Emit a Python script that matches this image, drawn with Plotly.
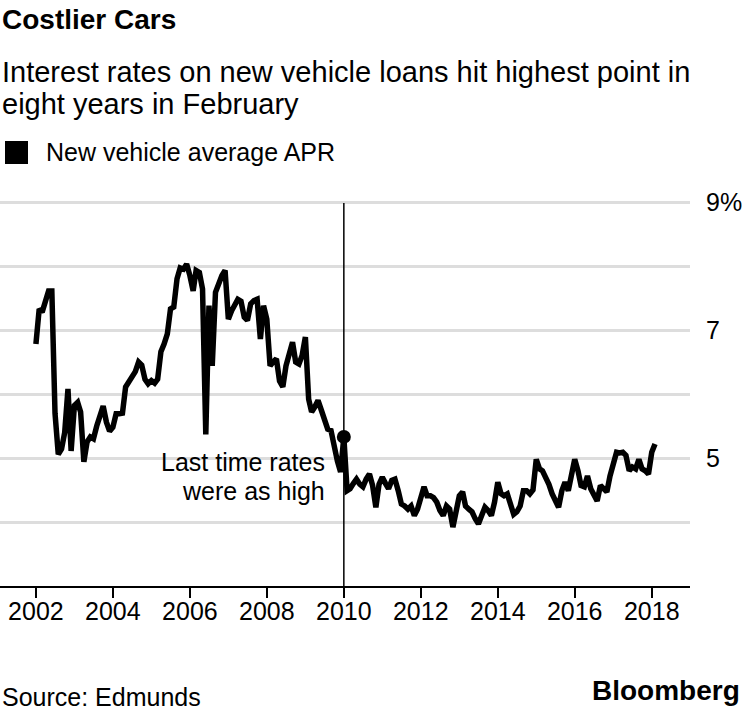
import plotly.graph_objects as go
import pandas as pd

# Monthly new vehicle average APR (%), Jan 2002 - Feb 2018
apr_2002 = [6.78, 7.33, 7.28, 7.44, 7.61, 7.61, 5.70, 5.06, 5.14, 5.40, 6.08, 5.11]
apr_2003 = [5.82, 5.87, 5.72, 4.94, 5.25, 5.33, 5.30, 5.50, 5.66, 5.81, 5.56, 5.42]
apr_2004 = [5.48, 5.69, 5.69, 5.70, 6.11, 6.20, 6.27, 6.35, 6.50, 6.45, 6.23, 6.16]
apr_2005 = [6.21, 6.17, 6.23, 6.66, 6.78, 6.94, 7.33, 7.36, 7.80, 7.97, 7.95, 8.03]
apr_2006 = [7.85, 7.61, 7.93, 7.90, 7.64, 5.37, 7.38, 6.44, 7.59, 7.75, 7.85, 7.93]
apr_2007 = [7.17, 7.30, 7.38, 7.48, 7.45, 7.20, 7.15, 7.41, 7.46, 7.48, 6.86, 7.38]
apr_2008 = [7.17, 6.44, 6.50, 6.55, 6.20, 6.11, 6.44, 6.65, 6.81, 6.50, 6.47, 6.60]
apr_2009 = [6.89, 5.92, 5.72, 5.80, 5.90, 5.75, 5.61, 5.45, 5.43, 5.14, 4.95, 4.78]
apr_2010 = [5.33, 4.49, 4.52, 4.60, 4.67, 4.59, 4.55, 4.67, 4.75, 4.57, 4.23, 4.59]
apr_2011 = [4.70, 4.60, 4.52, 4.65, 4.67, 4.49, 4.28, 4.25, 4.20, 4.25, 4.10, 4.20]
apr_2012 = [4.36, 4.55, 4.41, 4.41, 4.38, 4.31, 4.18, 4.10, 4.25, 4.20, 3.92, 4.20]
apr_2013 = [4.41, 4.47, 4.25, 4.20, 4.16, 4.05, 3.97, 4.10, 4.23, 4.18, 4.10, 4.31]
apr_2014 = [4.62, 4.44, 4.41, 4.44, 4.30, 4.12, 4.16, 4.25, 4.49, 4.49, 4.44, 4.50]
apr_2015 = [4.98, 4.83, 4.80, 4.70, 4.59, 4.44, 4.31, 4.23, 4.49, 4.62, 4.49, 4.75]
apr_2016 = [4.98, 4.80, 4.57, 4.55, 4.72, 4.52, 4.41, 4.33, 4.57, 4.52, 4.47, 4.72]
apr_2017 = [4.94, 5.09, 5.08, 5.09, 5.04, 4.80, 4.86, 4.83, 4.98, 4.83, 4.80, 4.75]
apr_2018 = [5.09, 5.22]

apr = (apr_2002 + apr_2003 + apr_2004 + apr_2005 + apr_2006 + apr_2007 + apr_2008
       + apr_2009 + apr_2010 + apr_2011 + apr_2012 + apr_2013 + apr_2014 + apr_2015
       + apr_2016 + apr_2017 + apr_2018)
dates = pd.date_range("2002-01-01", periods=len(apr), freq="MS")

highlight_date = "2010-01-01"
highlight_value = apr_2010[0]

y_tickvals = [4, 5, 6, 7, 8, 9]
y_ticktext = ["", "5", "", "7", "", "9%"]
x_tickvals = [f"{y}-01-01" for y in range(2002, 2019, 2)]
x_ticktext = [str(y) for y in range(2002, 2019, 2)]

FONT = "Liberation Sans, Arial, Helvetica, sans-serif"

fig = go.Figure()
fig.add_trace(go.Scatter(x=dates, y=apr, mode="lines",
                         line=dict(color="black", width=5.5),
                         hoverinfo="skip", showlegend=False))
fig.add_trace(go.Scatter(x=[highlight_date], y=[highlight_value], mode="markers",
                         marker=dict(color="black", size=14),
                         hoverinfo="skip", showlegend=False))

W, H = 750, 715
L, R, T, B = 0, 60, 200, 129
pw, ph = W - L - R, H - T - B
y_top = 3 + ph / 64.0

def px(x):
    return (x - L) / pw

def py(y):
    return (H - B - y) / ph

fig.add_shape(type="line", xref="x", yref="paper", x0=highlight_date, x1=highlight_date,
              y0=0, y1=py(203), line=dict(color="black", width=1.5))
fig.add_shape(type="rect", xref="paper", yref="paper", x0=px(5), x1=px(28),
              y0=py(164), y1=py(141), fillcolor="black", line=dict(width=0))

annotations = [
    dict(text="<b>Costlier Cars</b>", x=px(0), y=py(19), font=dict(size=28)),
    dict(text="Interest rates on new vehicle loans hit highest point in", x=px(0), y=py(72),
         font=dict(size=29)),
    dict(text="eight years in February", x=px(0), y=py(104), font=dict(size=29)),
    dict(text="New vehicle average APR", x=px(44), y=py(152), font=dict(size=25)),
    dict(text="Last time rates", x=px(327), y=py(462), xanchor="right", font=dict(size=25)),
    dict(text="were as high", x=px(327), y=py(491), xanchor="right", font=dict(size=25)),
    dict(text="Source: Edmunds", x=px(0), y=py(697), font=dict(size=25)),
    dict(text="<b>Bloomberg</b>", x=px(742), y=py(690), xanchor="right", font=dict(size=28)),
]
for a in annotations:
    a.setdefault("xanchor", "left")
    a.update(xref="paper", yref="paper", yanchor="middle", showarrow=False)
    a["font"].update(family=FONT, color="black")
fig.update_layout(annotations=annotations)

fig.update_layout(
    width=W, height=H,
    margin=dict(l=L, r=R, t=T, b=B, pad=0),
    paper_bgcolor="white", plot_bgcolor="white",
    font=dict(family=FONT, color="black", size=25),
    showlegend=False,
    xaxis=dict(range=["2001-01-25", "2018-12-30"], tickvals=x_tickvals, ticktext=x_ticktext,
               ticks="outside", ticklen=10, tickwidth=1.5, tickcolor="black",
               showline=True, linecolor="black", linewidth=2, showgrid=False,
               zeroline=False, ticklabelstandoff=-8,
               tickfont=dict(size=25, color="black", family=FONT)),
    yaxis=dict(range=[3, y_top], side="right", tickvals=y_tickvals, ticktext=y_ticktext,
               showgrid=True, gridcolor="#dddddd", gridwidth=2.5, zeroline=False,
               showline=False, ticks="", ticklabelstandoff=15,
               tickfont=dict(size=25, color="black", family=FONT)),
)

fig.write_html("out.html", config={"displayModeBar": False},
               post_script="document.body.style.margin='0px';")
